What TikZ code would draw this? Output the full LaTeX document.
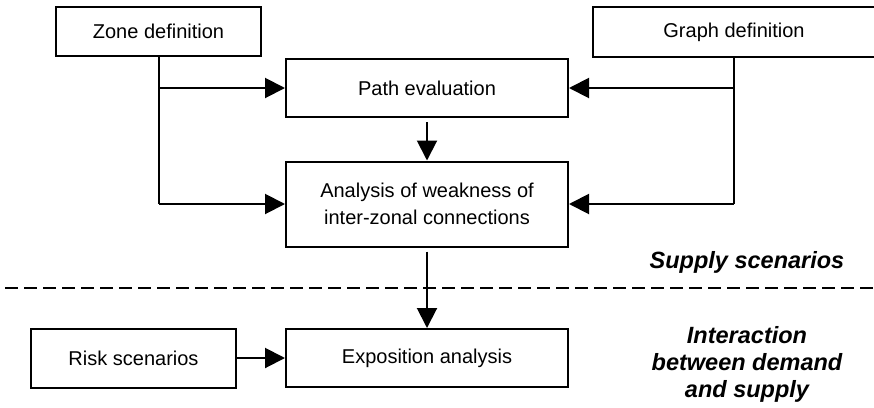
\documentclass[tikz,border=0pt]{standalone}
\usepackage{fontspec}
\setmainfont{Liberation Sans}
\usetikzlibrary{arrows.meta}
\begin{document}
\begin{tikzpicture}[x=1pt,y=-1pt,
  box/.style={draw,line width=2pt,inner sep=0pt,align=center,font=\fontsize{20}{26.5}\selectfont},
  conn/.style={line width=2pt},
  arr/.style={conn,-{Triangle[length=20pt,width=20pt]}},
  lab/.style={font=\fontsize{23.5}{27}\selectfont\bfseries\itshape,align=center},
  sep/.style={line width=2.5pt,dash pattern=on 13pt off 6pt}]
\useasboundingbox (0,0) rectangle (874,407);
\node[box,minimum width=205pt,minimum height=49pt] (zone) at (158.5,31.5) {Zone definition};
\node[box,minimum width=282pt,minimum height=50pt] (graph) at (734,32) {Graph definition};
\node[box,minimum width=282pt,minimum height=58pt] (path) at (427,88) {Path evaluation};
\node[box,minimum width=282pt,minimum height=85pt] (anal) at (427,204) {Analysis of weakness of\\inter-zonal connections};
\node[box,minimum width=282pt,minimum height=58pt] (expo) at (427,358) {Exposition analysis};
\node[box,minimum width=205pt,minimum height=59pt] (risk) at (133.5,358) {Risk scenarios};
\coordinate (sepL) at (5,288);
\coordinate (sepR) at (874,288);
\node[lab] (supply) at (747,262) {Supply scenarios};
\node[lab] (inter) at (747,364) {Interaction\\between demand\\and supply};
% connectors
\draw[conn] (zone.south) -- (zone.south |- anal.west);
\draw[arr] (zone.south |- path.west) -- (path.west);
\draw[arr] (zone.south |- anal.west) -- (anal.west);
\draw[conn] (graph.south) -- (graph.south |- anal.east);
\draw[arr] (graph.south |- path.east) -- (path.east);
\draw[arr] (graph.south |- anal.east) -- (anal.east);
\draw[arr] ([yshift=-4pt]path.south) -- (anal.north);
\draw[arr] ([yshift=-4pt]anal.south) -- (expo.north);
\draw[arr] (risk.east) -- (expo.west);
\draw[sep] (sepL) -- (sepR);
\end{tikzpicture}
\end{document}
